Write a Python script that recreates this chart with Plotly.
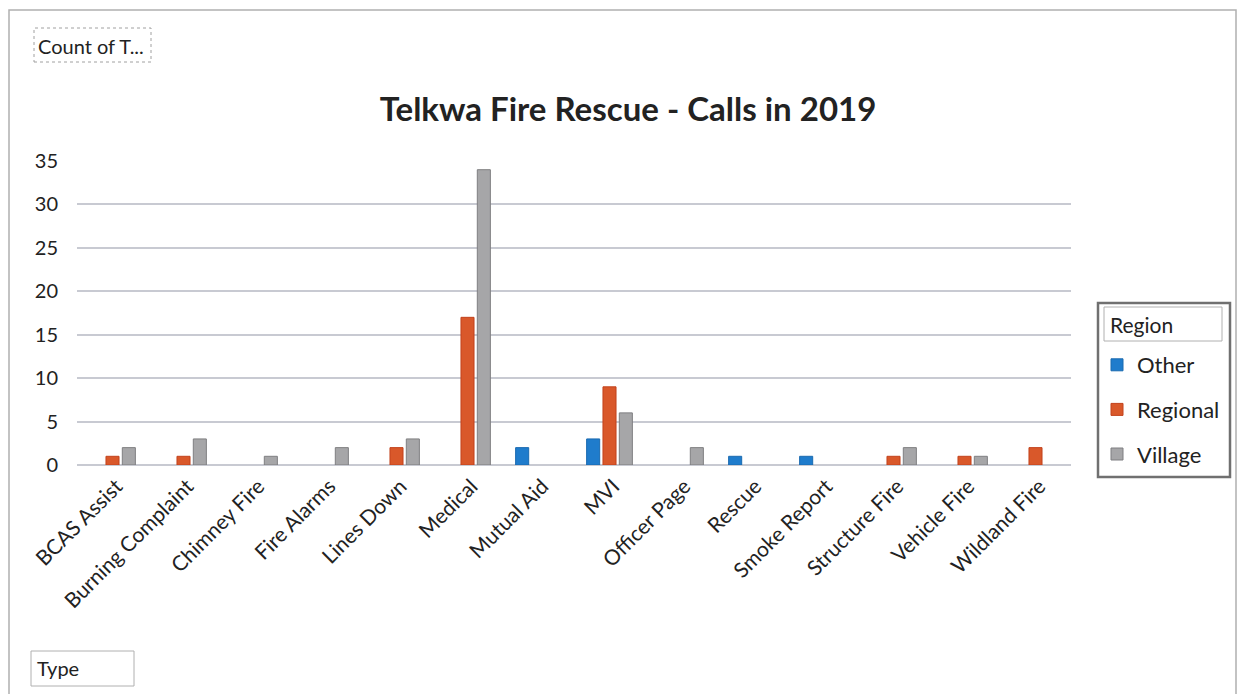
import plotly.graph_objects as go

categories = ["BCAS Assist", "Burning Complaint", "Chimney Fire", "Fire Alarms",
              "Lines Down", "Medical", "Mutual Aid", "MVI", "Officer Page",
              "Rescue", "Smoke Report", "Structure Fire", "Vehicle Fire", "Wildland Fire"]
other =    [None, None, None, None, None, None, 2, 3, None, 1, 1, None, None, None]
regional = [1, 1, None, None, 2, 17, None, 9, None, None, None, 1, 1, 2]
village =  [2, 3, 1, 2, 3, 34, None, 6, 2, None, None, 2, 1, None]
y_ticks = [0, 5, 10, 15, 20, 25, 30, 35]

W, H = 1238, 694
L, R, T, B = 77, 1071, 161, 465  # plot area in px


def px(x):
    return (x - L) / (R - L)


def py(y):
    return (B - y) / (B - T)


FONT = "Lato"
fig = go.Figure()
series = [("Other", other, "#1f7ccc", "#1a6ab0"),
          ("Regional", regional, "#d9582a", "#c2421c"),
          ("Village", village, "#a6a6a8", "#7f7f81")]
for name, vals, col, edge in series:
    fig.add_trace(go.Bar(x=categories, y=vals, name=name, legendgroup=name,
                         marker=dict(color=col, line=dict(color=edge, width=1))))

shapes = []
# outer chart border
shapes.append(dict(type="rect", xref="paper", yref="paper",
                   x0=px(9), x1=px(1236), y0=py(700), y1=py(10),
                   line=dict(color="#b0b0b0", width=1.5), fillcolor="rgba(0,0,0,0)", layer="below"))
# legend box
shapes.append(dict(type="rect", xref="paper", yref="paper",
                   x0=px(1098), x1=px(1230), y0=py(477), y1=py(303),
                   line=dict(color="#707070", width=2.5), fillcolor="white", layer="below"))
# Region field button
shapes.append(dict(type="rect", xref="paper", yref="paper",
                   x0=px(1104), x1=px(1222), y0=py(341), y1=py(307),
                   line=dict(color="#b0b0b0", width=1), fillcolor="rgba(0,0,0,0)"))
# Count of button
shapes.append(dict(type="rect", xref="paper", yref="paper",
                   x0=px(34), x1=px(151), y0=py(62), y1=py(28),
                   line=dict(color="#a0a0a0", width=1, dash="dot"), fillcolor="rgba(0,0,0,0)"))
# Type button
shapes.append(dict(type="rect", xref="paper", yref="paper",
                   x0=px(31), x1=px(134), y0=py(686), y1=py(651),
                   line=dict(color="#b0b0b0", width=1), fillcolor="rgba(0,0,0,0)"))

annotations = [
    dict(text="Count of T...", xref="paper", yref="paper", x=px(36), y=py(46),
         xanchor="left", yanchor="middle", showarrow=False,
         font=dict(family=FONT, size=20, color="#222")),
    dict(text="Type", xref="paper", yref="paper", x=px(35), y=py(668),
         xanchor="left", yanchor="middle", showarrow=False,
         font=dict(family=FONT, size=20, color="#222")),
    dict(text="Region", xref="paper", yref="paper", x=px(1108), y=py(324),
         xanchor="left", yanchor="middle", showarrow=False,
         font=dict(family=FONT, size=21, color="#222")),
]

fig.update_layout(
    width=W, height=H,
    margin=dict(l=L, r=W - R, t=T, b=H - B, autoexpand=False),
    paper_bgcolor="white", plot_bgcolor="white",
    title=dict(text="<b>Telkwa Fire Rescue - Calls in 2019</b>", x=628 / W, xanchor="center",
               y=1 - 109 / H, yanchor="middle", xref="container", yref="container",
               font=dict(family=FONT, size=33, color="#222")),
    barmode="group", bargap=0.31, bargroupgap=0.2,
    showlegend=True,
    legend=dict(x=px(1097), y=py(344), xanchor="left", yanchor="top",
                bgcolor="rgba(0,0,0,0)", borderwidth=0, tracegroupgap=13,
                font=dict(family=FONT, size=22, color="#222"), itemclick=False),
    xaxis=dict(tickangle=-45, tickfont=dict(family=FONT, size=21, color="#222"),
               showgrid=False, showline=False, ticks="", ticklabelshift=4,
               ticklabelstandoff=4),
    yaxis=dict(range=[0, 35], tickvals=y_ticks, showgrid=True, gridcolor="#c8cad2",
               gridwidth=2, zeroline=True, zerolinecolor="#c8cad2", zerolinewidth=2,
               tickfont=dict(family=FONT, size=20, color="#222"), ticklabelstandoff=18),
    shapes=shapes, annotations=annotations,
    font=dict(family=FONT),
)

fig.write_html("out.html")
